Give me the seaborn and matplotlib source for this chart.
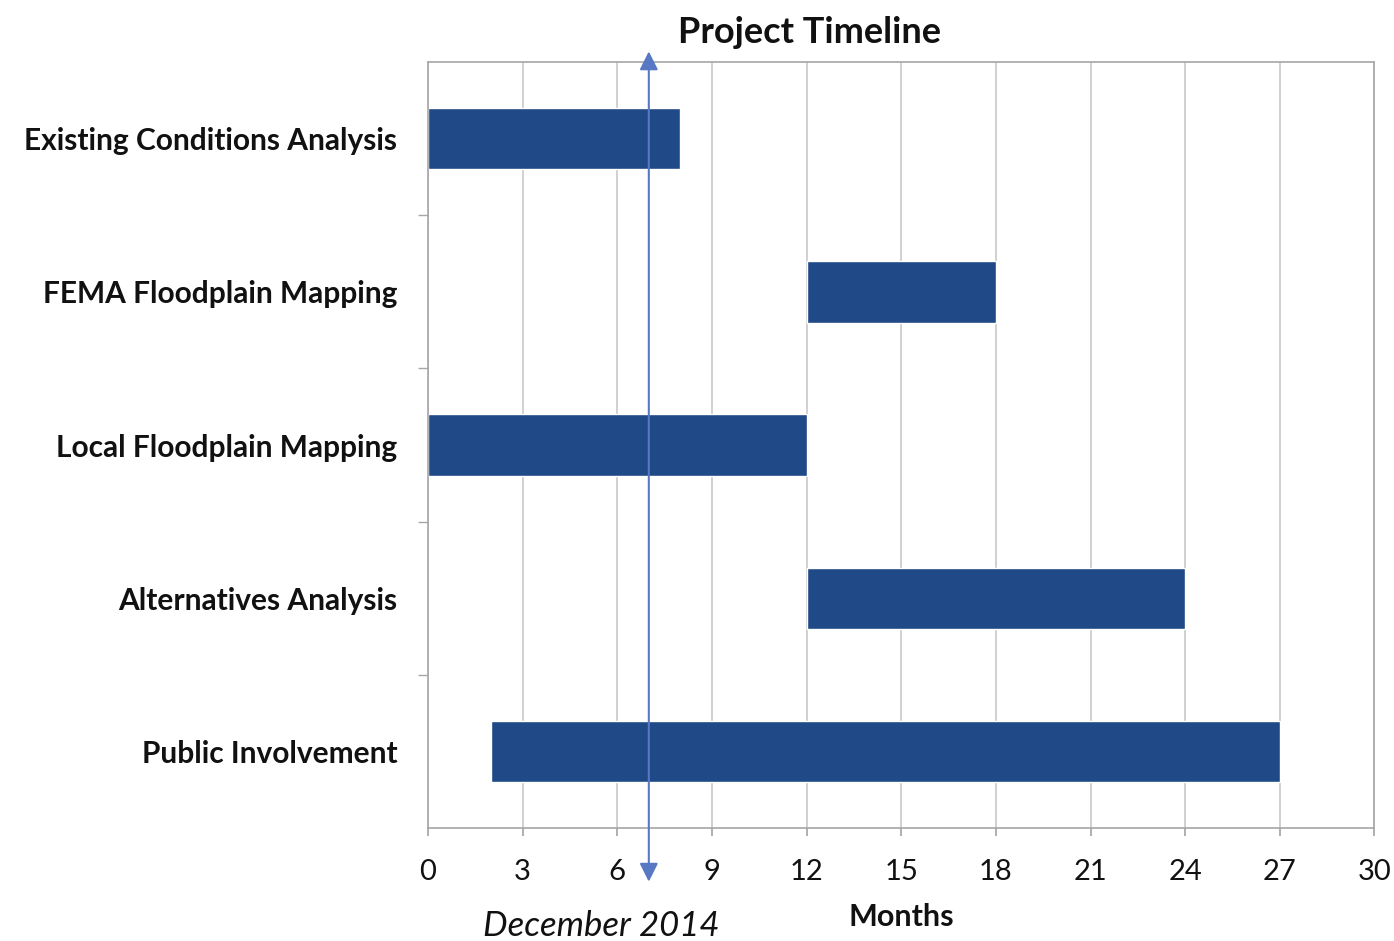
"""
Project timeline gantt chart
"""
import pandas as pd
import matplotlib.pyplot as plt
import seaborn as sns

tasks = ['Existing Conditions Analysis', 'FEMA Floodplain Mapping',
         'Local Floodplain Mapping', 'Alternatives Analysis', 'Public Involvement']
start_month = [0, 12, 0, 12, 2]
end_month = [8, 18, 12, 24, 27]
month_ticks = [0, 3, 6, 9, 12, 15, 18, 21, 24, 27, 30]
today_month = 7
today_label = 'December 2014'

BAR = '#1F4A87'
LINE = '#5878C4'

sns.set_theme(style='white')
plt.rcParams['font.family'] = ['Lato', 'DejaVu Sans']

data = pd.DataFrame({'task': tasks, 'start': start_month, 'end': end_month})

fig = plt.figure(figsize=(13.94, 9.41), dpi=100)
ax = fig.add_axes([0.307, 0.120, 0.679, 0.814])

sns.barplot(data=data, x='end', y='task', orient='h', color=BAR,
            width=0.4, saturation=1, ax=ax)

# shift each bar so it starts at the task's start month
for patch, s, e in zip(ax.patches, data['start'], data['end']):
    patch.set_x(s)
    patch.set_width(e - s)
    patch.set_zorder(2)

ax.set_xlim(0, 30)
ax.set_ylim(4.5, -0.5)
ax.set_xticks(month_ticks)
ax.set_xticklabels([str(m) for m in month_ticks], fontsize=21)
ax.set_yticks(range(len(tasks)))
ax.set_yticklabels(tasks, fontsize=21.5, fontweight='bold', color='#111111')
ax.set_yticks([i + 0.5 for i in range(len(tasks) - 1)], minor=True)
ax.tick_params(axis='y', which='major', length=0, pad=22)
ax.tick_params(axis='y', which='minor', length=7, color='#A6A6A6', direction='out', left=True)
ax.tick_params(axis='x', length=6, color='#A6A6A6', direction='out', bottom=True, pad=16,
               labelcolor='#111111')

ax.grid(axis='x', color='#C8C8C8', linewidth=1.2, zorder=0)
ax.set_axisbelow(True)
for side in ax.spines.values():
    side.set_color('#A6A6A6')
    side.set_linewidth(1.2)

ax.set_ylabel('')
ax.set_xlabel('Months', fontsize=22, fontweight='bold', labelpad=13, color='#111111')
ax.set_title('Project Timeline', fontsize=26, fontweight='bold', pad=14, x=0.403,
             color='#111111')

# current-date marker
ax.annotate('', xy=(today_month, -0.57), xytext=(today_month, 4.85),
            arrowprops=dict(arrowstyle='<|-|>', color=LINE, lw=1.5,
                            mutation_scale=28, shrinkA=0, shrinkB=0),
            annotation_clip=False, zorder=5)
ax.text(5.48, 5.14, today_label, fontsize=25, fontstyle='italic', color='#111111',
        ha='center', va='center', clip_on=False)

fig.savefig('out.png', dpi=100, facecolor='white')
